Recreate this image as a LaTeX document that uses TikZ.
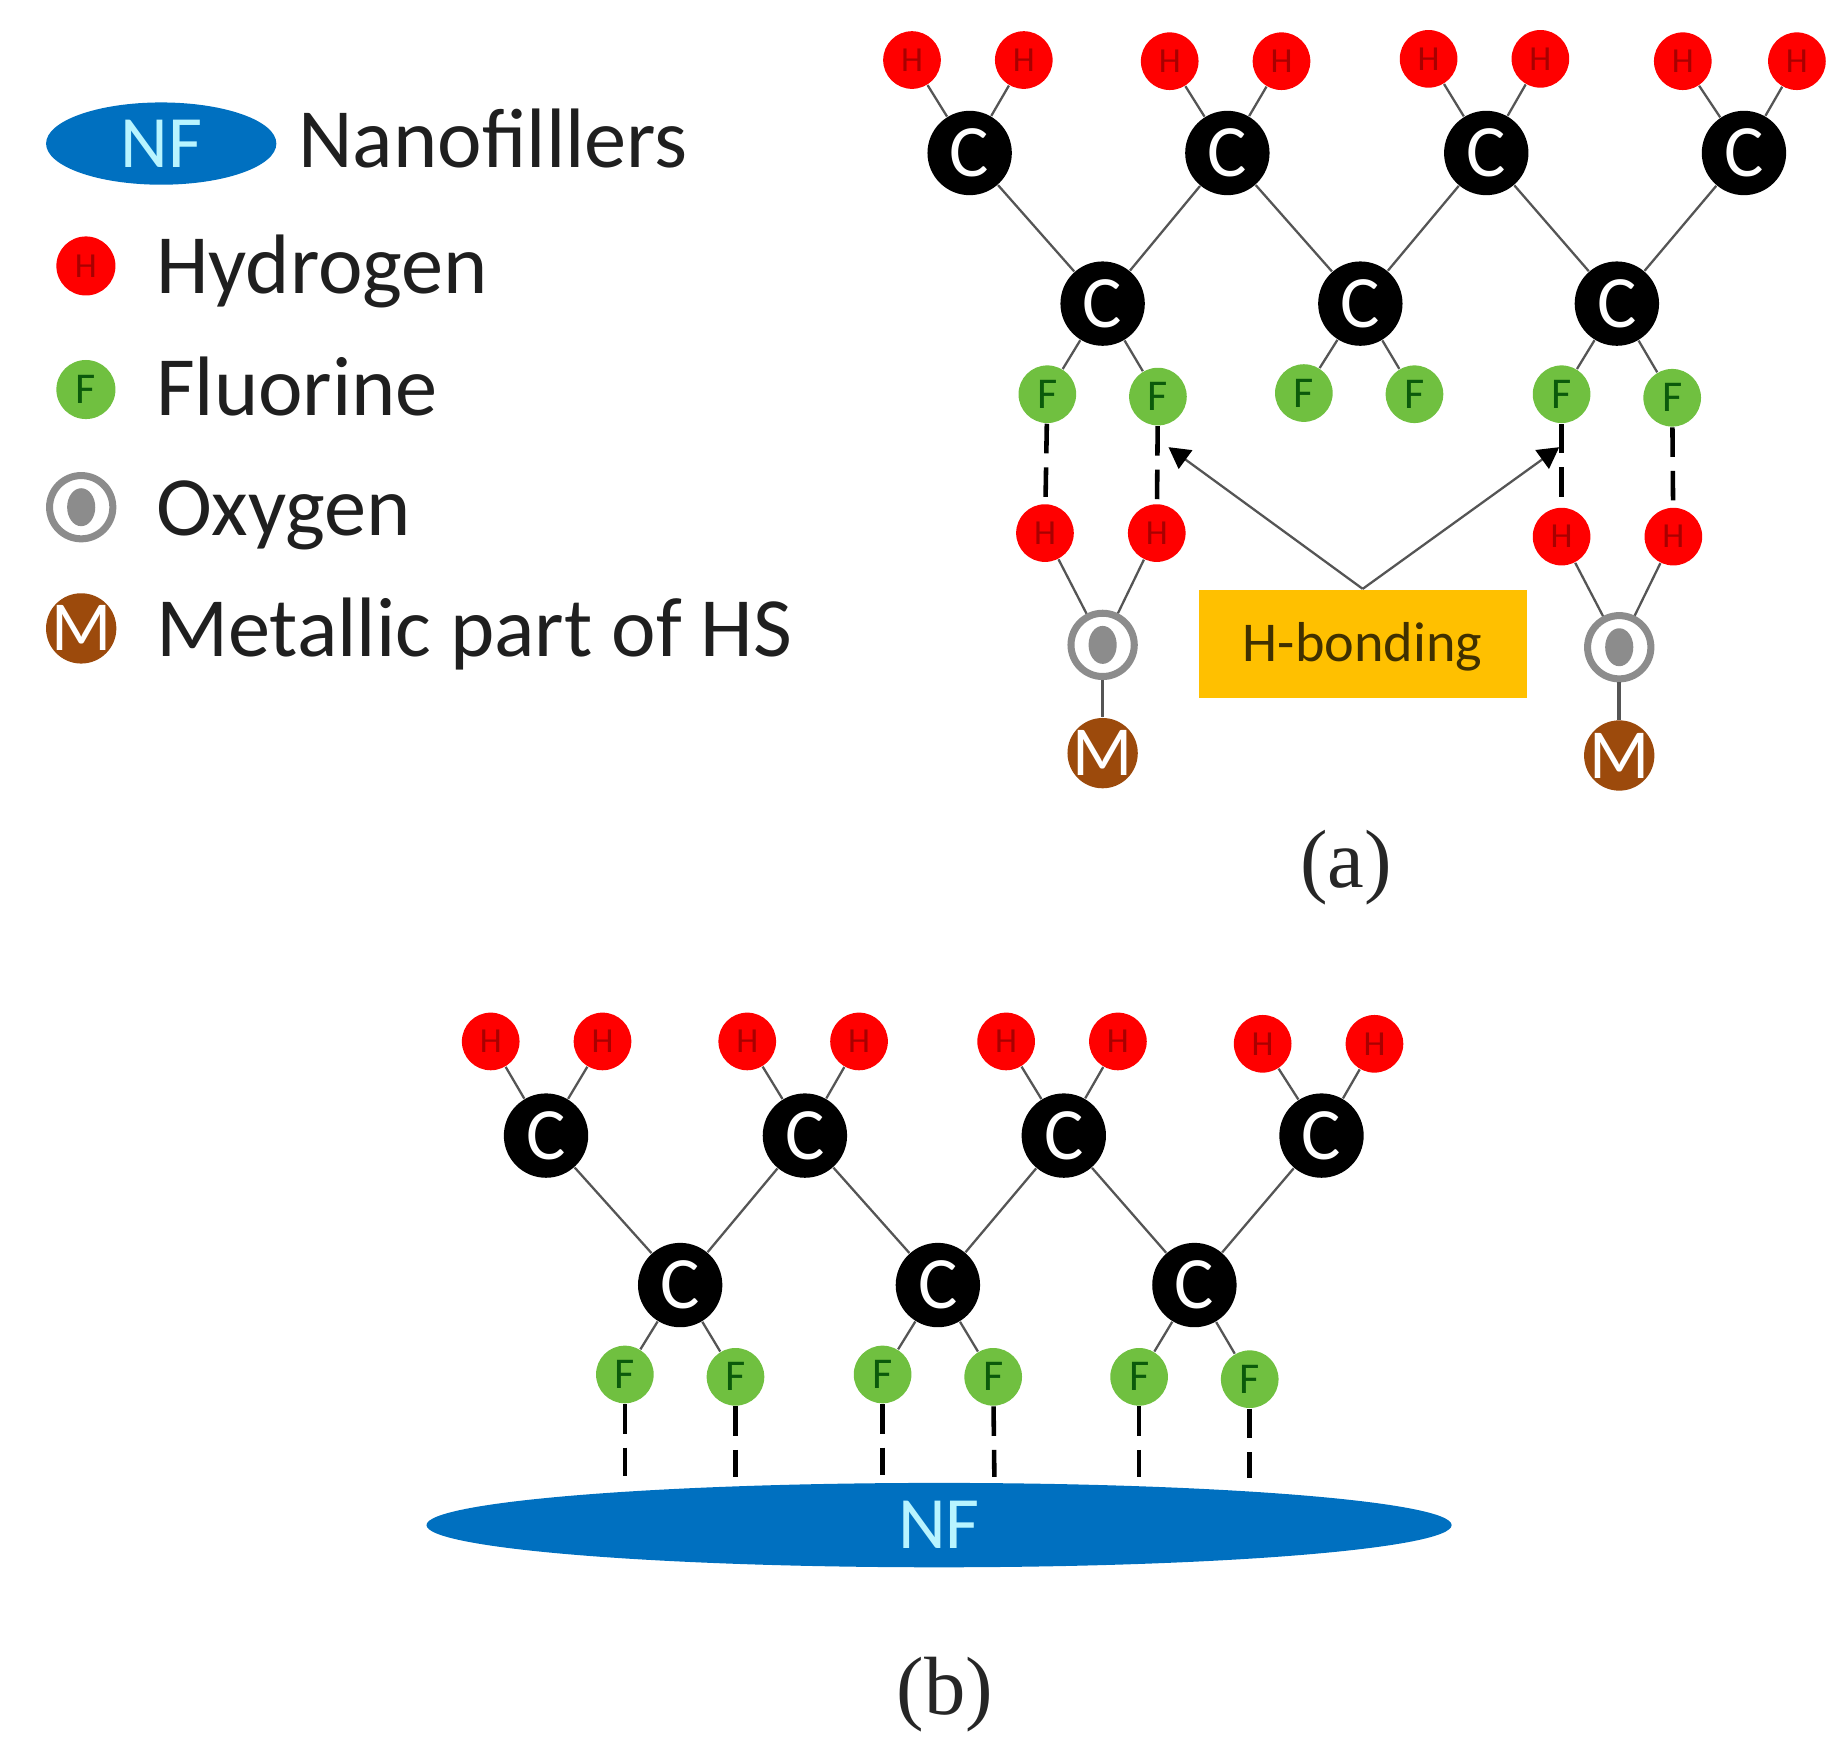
\documentclass[tikz,border=0pt]{standalone}
\usepackage{fontspec}
\usepackage{tikz}
\setmainfont{Carlito}
\newfontfamily\capfont{Liberation Serif}
\usetikzlibrary{arrows.meta,shapes.geometric}
\definecolor{hred}{HTML}{FF0000}
\definecolor{hdark}{HTML}{A80000}
\definecolor{fgreen}{HTML}{70C040}
\definecolor{fdark}{HTML}{0B5A0B}
\definecolor{ogray}{HTML}{8C8C8C}
\definecolor{mbrown}{HTML}{9C4A0C}
\definecolor{nfblue}{HTML}{0070C0}
\definecolor{nftext}{HTML}{B8F4FF}
\definecolor{boxgold}{HTML}{FFC000}
\definecolor{bondgray}{HTML}{555555}
\tikzset{
  hatom/.style={circle,fill=hred,text=hdark,inner sep=0pt,minimum size=16.4pt,font=\fontsize{10}{10}\selectfont},
  fatom/.style={circle,fill=fgreen,text=fdark,inner sep=0pt,minimum size=16.4pt,font=\fontsize{12.5}{12.5}\selectfont},
  catom/.style={circle,fill=black,text=white,inner sep=0pt,minimum size=24pt,font=\fontsize{21}{21}\selectfont},
  oatom/.style={circle,draw=ogray,fill=white,line width=2pt,inner sep=0pt,minimum size=18pt,
    path picture={\fill[ogray] (path picture bounding box.center) ellipse (4pt and 5.4pt);}},
  matom/.style={circle,fill=mbrown,text=white,inner sep=-1pt,minimum size=20pt,font=\fontsize{20}{20}\selectfont},
  bond/.style={draw=bondgray,line width=0.65pt},
  hbond/.style={draw=black,line width=1.3pt,dash pattern=on 8.4pt off 4pt},
  pointer/.style={draw=bondgray,line width=0.65pt,-{Triangle[length=6pt,width=6.5pt,color=black]}},
  legendtext/.style={anchor=base west,inner sep=0pt,text=black!88,font=\fontsize{24}{24}\selectfont},
  nfblob/.style={ellipse,fill=nfblue,text=nftext,inner sep=0pt,font=\fontsize{21}{21}\selectfont},
  caption/.style={inner sep=0pt,text=black!85,font=\capfont\fontsize{23.5}{23.5}\selectfont}
}
\begin{document}
\begin{tikzpicture}[x=0.011768cm,y=-0.011768cm]
\useasboundingbox (0,0) rectangle (1567,1487);
\node[nfblob,minimum width=65.5pt,minimum height=23.4pt] (legnf) at (137,122) {NF};
\node[legendtext] (legnftext) at (253,142) {Nanofilllers};
\node[hatom,minimum size=16.8pt] (legh) at (73,226) {H};
\node[legendtext] (leghtext) at (132,249) {Hydrogen};
\node[fatom,minimum size=16.8pt] (legf) at (73,331) {F};
\node[legendtext] (legftext) at (132,353) {Fluorine};
\node[oatom] (lego) at (69,431) {};
\node[legendtext] (legotext) at (132,455) {Oxygen};
\node[matom] (legm) at (69,534) {M};
\node[legendtext] (legmtext) at (132,558) {Metallic part of HS};
\node[hatom] (ah1) at (775,51) {H};
\node[hatom] (ah2) at (870,51) {H};
\node[hatom] (ah3) at (994,52) {H};
\node[hatom] (ah4) at (1089,52) {H};
\node[hatom] (ah5) at (1214,50) {H};
\node[hatom] (ah6) at (1309,50) {H};
\node[hatom] (ah7) at (1430,52) {H};
\node[hatom] (ah8) at (1527,52) {H};
\node[catom] (ac1) at (824,130) {C};
\node[catom] (ac2) at (1043,130) {C};
\node[catom] (ac3) at (1263,130) {C};
\node[catom] (ac4) at (1482,130) {C};
\node[catom] (ac5) at (937,258) {C};
\node[catom] (ac6) at (1156,258) {C};
\node[catom] (ac7) at (1374,258) {C};
\node[fatom] (af1) at (890,335) {F};
\node[fatom] (af2) at (984,337) {F};
\node[fatom] (af3) at (1108,334) {F};
\node[fatom] (af4) at (1202,335) {F};
\node[fatom] (af5) at (1327,335) {F};
\node[fatom] (af6) at (1421,338) {F};
\node[hatom] (ah9) at (888,453) {H};
\node[hatom] (ah10) at (983,453) {H};
\node[hatom] (ah11) at (1327,456) {H};
\node[hatom] (ah12) at (1422,456) {H};
\node[oatom] (ao1) at (937,548) {};
\node[oatom] (ao2) at (1376,550) {};
\node[matom] (am1) at (937,640) {M};
\node[matom] (am2) at (1376,642) {M};
\node[fill=boxgold,text=black!75!boxgold,minimum width=93.4pt,minimum height=30.8pt,inner sep=0pt,text height=10.3pt,text depth=0pt,font=\fontsize{16}{16}\selectfont] (hbox) at (1158,547) {H-bonding};
\node[caption] (capa) at (1144,737) {(a)};
\coordinate (tipl) at (993,380);
\coordinate (tipr) at (1325,380);
\draw[bond] (ah1) -- (ac1);
\draw[bond] (ah2) -- (ac1);
\draw[bond] (ah3) -- (ac2);
\draw[bond] (ah4) -- (ac2);
\draw[bond] (ah5) -- (ac3);
\draw[bond] (ah6) -- (ac3);
\draw[bond] (ah7) -- (ac4);
\draw[bond] (ah8) -- (ac4);
\draw[bond] (ac1) -- (ac5);
\draw[bond] (ac2) -- (ac5);
\draw[bond] (ac2) -- (ac6);
\draw[bond] (ac3) -- (ac6);
\draw[bond] (ac3) -- (ac7);
\draw[bond] (ac4) -- (ac7);
\draw[bond] (ac5) -- (af1);
\draw[bond] (ac5) -- (af2);
\draw[bond] (ac6) -- (af3);
\draw[bond] (ac6) -- (af4);
\draw[bond] (ac7) -- (af5);
\draw[bond] (ac7) -- (af6);
\draw[hbond] (af1) -- (ah9);
\draw[hbond] (af2) -- (ah10);
\draw[hbond] (af5) -- (ah11);
\draw[hbond] (af6) -- (ah12);
\draw[bond] (ah9) -- (ao1);
\draw[bond] (ah10) -- (ao1);
\draw[bond] (ah11) -- (ao2);
\draw[bond] (ah12) -- (ao2);
\draw[bond,line width=1pt] (ao1) -- (am1);
\draw[bond,line width=1pt] (ao2) -- (am2);
\draw[pointer] (hbox.north) -- (tipl);
\draw[pointer] (hbox.north) -- (tipr);
\node[hatom] (bh1) at (417,885) {H};
\node[hatom] (bh2) at (512,885) {H};
\node[hatom] (bh3) at (635,885) {H};
\node[hatom] (bh4) at (730,885) {H};
\node[hatom] (bh5) at (855,885) {H};
\node[hatom] (bh6) at (950,885) {H};
\node[hatom] (bh7) at (1073,887) {H};
\node[hatom] (bh8) at (1168,887) {H};
\node[catom] (bc1) at (464,965) {C};
\node[catom] (bc2) at (684,965) {C};
\node[catom] (bc3) at (904,965) {C};
\node[catom] (bc4) at (1123,965) {C};
\node[catom] (bc5) at (578,1092) {C};
\node[catom] (bc6) at (797,1092) {C};
\node[catom] (bc7) at (1015,1092) {C};
\node[fatom] (bf1) at (531,1168) {F};
\node[fatom] (bf2) at (625,1170) {F};
\node[fatom] (bf3) at (750,1168) {F};
\node[fatom] (bf4) at (844,1170) {F};
\node[fatom] (bf5) at (968,1170) {F};
\node[fatom] (bf6) at (1062,1172) {F};
\node[nfblob,minimum width=291.6pt,minimum height=24pt] (bnf) at (798,1296) {NF};
\node[caption] (capb) at (803,1440) {(b)};
\coordinate (bn1) at (531,1254);
\coordinate (bn2) at (625,1255);
\coordinate (bn3) at (750,1253);
\coordinate (bn4) at (845,1255);
\coordinate (bn5) at (968,1255);
\coordinate (bn6) at (1062,1256);
\draw[bond] (bh1) -- (bc1);
\draw[bond] (bh2) -- (bc1);
\draw[bond] (bh3) -- (bc2);
\draw[bond] (bh4) -- (bc2);
\draw[bond] (bh5) -- (bc3);
\draw[bond] (bh6) -- (bc3);
\draw[bond] (bh7) -- (bc4);
\draw[bond] (bh8) -- (bc4);
\draw[bond] (bc1) -- (bc5);
\draw[bond] (bc2) -- (bc5);
\draw[bond] (bc2) -- (bc6);
\draw[bond] (bc3) -- (bc6);
\draw[bond] (bc3) -- (bc7);
\draw[bond] (bc4) -- (bc7);
\draw[bond] (bc5) -- (bf1);
\draw[bond] (bc5) -- (bf2);
\draw[bond] (bc6) -- (bf3);
\draw[bond] (bc6) -- (bf4);
\draw[bond] (bc7) -- (bf5);
\draw[bond] (bc7) -- (bf6);
\draw[hbond] (bf1) -- (bn1);
\draw[hbond] (bf2) -- (bn2);
\draw[hbond] (bf3) -- (bn3);
\draw[hbond] (bf4) -- (bn4);
\draw[hbond] (bf5) -- (bn5);
\draw[hbond] (bf6) -- (bn6);
\end{tikzpicture}
\end{document}
